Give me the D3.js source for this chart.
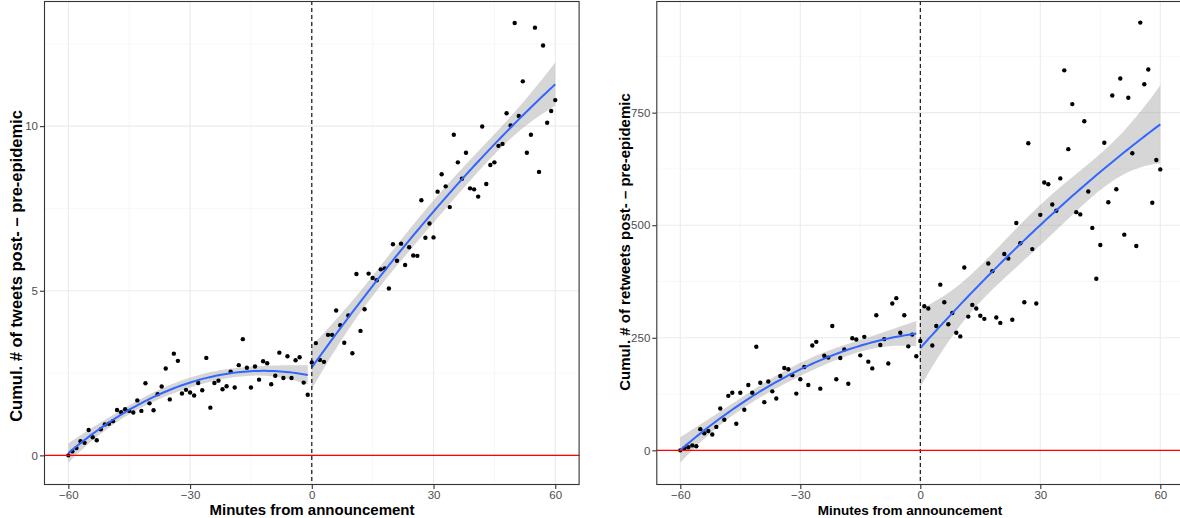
<!DOCTYPE html>
<html>
<head>
<meta charset="utf-8">
<script src="https://cdn.jsdelivr.net/npm/d3@7"></script>
<style>
  html, body { margin: 0; padding: 0; background: #fff; }
  svg { display: block; font-family: "Liberation Sans", Arial, sans-serif; }
</style>
</head>
<body>
<svg id="chart" width="1180" height="518"></svg>
<script>
/* ============================================================
   DATA
   ============================================================ */

// minutes relative to the announcement
const minutes = [
  -60, -59, -58, -57, -56, -55, -54, -53, -52, -51, -50, -49, -48, -47, -46, -45,
  -44, -43, -42, -41, -40, -39, -38, -37, -36, -35, -34, -33, -32, -31, -30, -29,
  -28, -27, -26, -25, -24, -23, -22, -21, -20, -19, -18, -17, -16, -15, -14, -13,
  -12, -11, -10, -9, -8, -7, -6, -5, -4, -3, -2, -1,
  0, 1, 2, 3, 4, 5, 6, 7, 8, 9, 10, 11, 12, 13, 14, 15, 16, 17, 18, 19,
  20, 21, 22, 23, 24, 25, 26, 27, 28, 29, 30, 31, 32, 33, 34, 35, 36, 37, 38, 39,
  40, 41, 42, 43, 44, 45, 46, 47, 48, 49, 50, 51, 52, 53, 54, 55, 56, 57, 58, 59, 60
];

// cumulative tweets, post - pre epidemic
const tweets = [
  0.00, 0.12, 0.22, 0.43, 0.38, 0.77, 0.55, 0.46, 0.79, 0.94, 0.96, 1.04, 1.38, 1.31, 1.40, 1.35,
  1.30, 1.67, 1.35, 2.19, 1.58, 1.37, 1.86, 2.09, 2.64, 1.70, 3.09, 2.87, 1.88, 1.99, 1.91, 1.82,
  2.20, 1.98, 2.96, 1.45, 2.20, 2.27, 2.01, 2.10, 2.54, 2.06, 2.74, 3.53, 2.66, 2.06, 2.70, 2.30,
  2.86, 2.80, 2.16, 2.42, 3.12, 2.35, 3.01, 2.35, 2.89, 2.98, 2.21, 1.84,
  2.82, 3.41, 2.90, 2.84, 3.66, 3.66, 4.40, 3.95, 3.42, 4.25, 3.10, 5.51, 3.78, 4.44, 5.52, 5.39,
  5.32, 5.65, 5.68, 5.07,
  6.41, 5.91, 6.43, 5.78, 6.32, 6.07, 6.06, 7.75, 6.61, 7.04, 6.62, 8.01, 8.54, 8.17, 7.54, 9.74,
  8.90, 8.40, 9.19, 8.11,
  8.08, 7.86, 9.99, 8.24, 8.82, 8.90, 9.40, 9.46, 10.39, 10.02, 13.13, 10.31, 11.36, 9.19, 9.74,
  12.99, 8.61, 12.45, 10.10, 10.46, 10.79
];

// cumulative retweets, post - pre epidemic
const retweets = [
  0, 4, 7, 11, 9, 47, 38, 43, 35, 52, 93, 68, 121, 128, 59, 128,
  90, 145, 128, 230, 150, 107, 153, 131, 115, 165, 183, 180, 167, 126, 158, 185,
  145, 233, 241, 137, 210, 206, 276, 158, 205, 224, 148, 249, 246, 211, 252, 197,
  182, 300, 234, 247, 193, 326, 338, 261, 300, 231, 257, 209,
  243, 320, 315, 233, 276, 368, 329, 280, 305, 261, 253, 406, 297, 323, 315, 299,
  292, 415, 398, 295,
  283, 436, 426, 290, 505, 460, 329, 682, 447, 326, 523, 595, 591, 546, 532, 604,
  844, 669, 769, 529,
  524, 731, 575, 494, 381, 456, 683, 551, 788, 580, 826, 479, 783, 660, 454,
  950, 813, 846, 550, 645, 624
];

const xTicks = [-60, -30, 0, 30, 60];
const xMinor = [-45, -15, 15, 45];
const tweetTicks = [0, 5, 10];
const tweetMinor = [2.5, 7.5, 12.5];
const retweetTicks = [0, 250, 500, 750];
const retweetMinor = [125, 375, 625, 875];

/* ============================================================
   Quadratic least-squares fit with 95% confidence band
   (geom_smooth(method = "lm", formula = y ~ poly(x, 2)))
   ============================================================ */
function invert3(m) {
  const [a, b, c] = m[0], [d, e, f] = m[1], [g, h, i] = m[2];
  const A = e * i - f * h, B = -(d * i - f * g), C = d * h - e * g;
  const det = a * A + b * B + c * C;
  return [
    [A / det, -(b * i - c * h) / det, (b * f - c * e) / det],
    [B / det, (a * i - c * g) / det, -(a * f - c * d) / det],
    [C / det, -(a * h - b * g) / det, (a * e - b * d) / det]
  ];
}

function tQuantile975(df) {
  const z = 1.959964;
  return z + (z ** 3 + z) / (4 * df) + (5 * z ** 5 + 16 * z ** 3 + 3 * z) / (96 * df * df);
}

function quadBand(xs, ys) {
  const n = xs.length;
  const xm = d3.mean(xs);
  const basis = x => [1, x - xm, (x - xm) ** 2];

  const S = [[0, 0, 0], [0, 0, 0], [0, 0, 0]];
  const r = [0, 0, 0];
  xs.forEach((x, i) => {
    const b = basis(x);
    for (let j = 0; j < 3; j++) {
      r[j] += b[j] * ys[i];
      for (let k = 0; k < 3; k++) S[j][k] += b[j] * b[k];
    }
  });
  const inv = invert3(S);
  const coef = inv.map(row => d3.sum(row, (v, k) => v * r[k]));
  const predict = x => d3.sum(basis(x), (v, k) => v * coef[k]);

  const rss = d3.sum(xs, (x, i) => (ys[i] - predict(x)) ** 2);
  const sigma = Math.sqrt(rss / (n - 3));
  const t = tQuantile975(n - 3);

  const [lo, hi] = d3.extent(xs);
  return d3.range(80).map(k => {
    const x0 = lo + (hi - lo) * k / 79;
    const b = basis(x0);
    let q = 0;
    for (let j = 0; j < 3; j++) for (let l = 0; l < 3; l++) q += b[j] * inv[j][l] * b[l];
    const fit = predict(x0);
    const se = sigma * Math.sqrt(q);
    return { x: x0, y: fit, lo: fit - t * se, hi: fit + t * se };
  });
}

/* ============================================================
   PANEL
   ============================================================ */
const svg = d3.select('#chart');

function drawPanel(opts) {
  const { left, right, top, bottom, yDomain, values, yTicks, yMinor } = opts;
  const x = d3.scaleLinear().domain([-66, 66]).range([left, right]);
  const y = d3.scaleLinear().domain(yDomain).range([bottom, top]);

  const g = svg.append('g');
  const clipId = 'clip' + opts.id;
  svg.append('defs').append('clipPath').attr('id', clipId)
    .append('rect').attr('x', left).attr('y', top)
    .attr('width', right - left).attr('height', bottom - top);
  const plot = g.append('g').attr('clip-path', `url(#${clipId})`);

  // grid
  plot.selectAll('.vminor').data(xMinor).enter().append('line')
    .attr('x1', d => x(d)).attr('x2', d => x(d)).attr('y1', top).attr('y2', bottom)
    .attr('stroke', '#F2F2F2').attr('stroke-width', 0.6);
  plot.selectAll('.hminor').data(yMinor).enter().append('line')
    .attr('y1', d => y(d)).attr('y2', d => y(d)).attr('x1', left).attr('x2', right)
    .attr('stroke', '#F2F2F2').attr('stroke-width', 0.6);
  plot.selectAll('.vmajor').data(xTicks).enter().append('line')
    .attr('x1', d => x(d)).attr('x2', d => x(d)).attr('y1', top).attr('y2', bottom)
    .attr('stroke', '#EBEBEB').attr('stroke-width', 1.1);
  plot.selectAll('.hmajor').data(yTicks).enter().append('line')
    .attr('y1', d => y(d)).attr('y2', d => y(d)).attr('x1', left).attr('x2', right)
    .attr('stroke', '#EBEBEB').attr('stroke-width', 1.1);

  // points, split before / after the announcement
  const pts = minutes.map((m, i) => ({ m, v: values[i] }));
  const parts = [pts.filter(d => d.m < 0), pts.filter(d => d.m >= 0)];
  const bands = parts.map(part => quadBand(part.map(d => d.m), part.map(d => d.v)));

  bands.forEach(band => {
    plot.append('path').datum(band)
      .attr('d', d3.area().x(d => x(d.x)).y0(d => y(d.lo)).y1(d => y(d.hi)))
      .attr('fill', '#999999').attr('fill-opacity', 0.4);
  });

  plot.selectAll('.pt').data(pts).enter().append('circle')
    .attr('cx', d => x(d.m)).attr('cy', d => y(d.v)).attr('r', 2.2)
    .attr('fill', '#000');

  bands.forEach(band => {
    plot.append('path').datum(band)
      .attr('d', d3.line().x(d => x(d.x)).y(d => y(d.y)))
      .attr('fill', 'none').attr('stroke', '#3366FF').attr('stroke-width', 2);
  });

  // reference lines
  plot.append('line')
    .attr('x1', x(0)).attr('x2', x(0)).attr('y1', top).attr('y2', bottom)
    .attr('stroke', '#000').attr('stroke-width', 1.1).attr('stroke-dasharray', '4,3');
  plot.append('line')
    .attr('x1', left).attr('x2', right).attr('y1', y(0)).attr('y2', y(0))
    .attr('stroke', '#FF0000').attr('stroke-width', 1.1);

  // border
  g.append('rect')
    .attr('x', left + 0.5).attr('y', top + 0.5)
    .attr('width', right - left - 1).attr('height', bottom - top - 1)
    .attr('fill', 'none').attr('stroke', '#333333').attr('stroke-width', 1.1);

  // axes
  const xAxis = g.append('g').attr('transform', `translate(0,${bottom})`)
    .call(d3.axisBottom(x).tickValues(xTicks).tickSize(4).tickPadding(1.5));
  const yAxis = g.append('g').attr('transform', `translate(${left},0)`)
    .call(d3.axisLeft(y).tickValues(yTicks).tickSize(4).tickPadding(2));
  [xAxis, yAxis].forEach(a => {
    a.select('.domain').remove();
    a.selectAll('.tick line').attr('stroke', '#333333').attr('stroke-width', 1.1);
    a.selectAll('.tick text').attr('fill', '#4D4D4D')
      .style('font-size', '11.5px').style('font-family', '"Liberation Sans", Arial, sans-serif');
  });

  // titles
  g.append('text')
    .attr('x', opts.xTitleX).attr('y', 515)
    .attr('text-anchor', 'middle')
    .style('font-weight', 'bold').style('font-size', opts.xTitleSize)
    .text('Minutes from announcement');
  g.append('text')
    .attr('transform', `translate(${opts.yTitleX},${opts.yTitleY}) rotate(-90)`)
    .attr('text-anchor', 'middle')
    .style('font-weight', 'bold').style('font-size', opts.yTitleSize)
    .text(opts.yTitle);
}

drawPanel({
  id: 'a', left: 44, right: 579.6, top: 1, bottom: 485,
  yDomain: [-0.9, 13.8], values: tweets,
  yTicks: tweetTicks, yMinor: tweetMinor,
  xTitleX: 312, xTitleSize: '15px',
  yTitleX: 22, yTitleY: 266, yTitleSize: '16.5px',
  yTitle: 'Cumul. # of tweets post- \u2013 pre-epidemic'
});

drawPanel({
  id: 'b', left: 656.3, right: 1184.3, top: 1, bottom: 485,
  yDomain: [-77, 998], values: retweets,
  yTicks: retweetTicks, yMinor: retweetMinor,
  xTitleX: 910, xTitleSize: '13.5px',
  yTitleX: 630, yTitleY: 242, yTitleSize: '15px',
  yTitle: 'Cumul. # of retweets post- \u2013 pre-epidemic'
});
</script>
</body>
</html>
